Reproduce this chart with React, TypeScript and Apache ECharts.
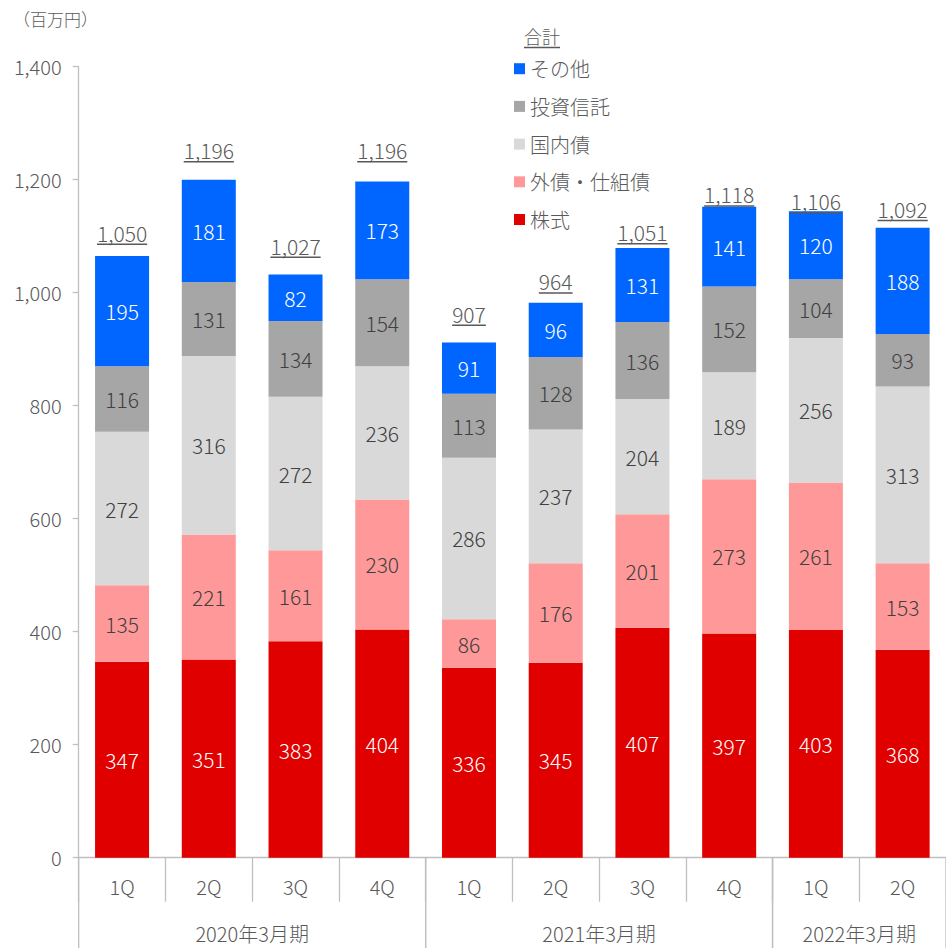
import React, { useEffect, useRef } from 'react';
import * as echarts from 'echarts';

const CATEGORIES = ['1Q', '2Q', '3Q', '4Q', '1Q', '2Q', '3Q', '4Q', '1Q', '2Q'];
const YEAR_GROUPS = ['2020年3月期', '2021年3月期', '2022年3月期'];
const GROUP_SIZES = [4, 4, 2];
const STOCKS = [347, 351, 383, 404, 336, 345, 407, 397, 403, 368];
const FOREIGN = [135, 221, 161, 230, 86, 176, 201, 273, 261, 153];
const DOMESTIC = [272, 316, 272, 236, 286, 237, 204, 189, 256, 313];
const FUNDS = [116, 131, 134, 154, 113, 128, 136, 152, 104, 93];
const OTHER = [195, 181, 82, 173, 91, 96, 131, 141, 120, 188];
const TOTALS = [1050, 1196, 1027, 1196, 907, 964, 1051, 1118, 1106, 1092];
const SERIES_NAMES = ['株式', '外債・仕組債', '国内債', '投資信託', 'その他'];
const LEGEND_ORDER = ['その他', '投資信託', '国内債', '外債・仕組債', '株式'];

const FONT = '"Noto Sans CJK JP", "Noto Sans", sans-serif';
const FW = 300;
const TEXT = '#595959';
const AXIS = '#BFBFBF';

export default function App() {
  const ref = useRef<HTMLDivElement>(null);
  useEffect(() => {
    const chart = echarts.init(ref.current!, null, { renderer: 'svg' });
    const canvas = document.createElement('canvas');
    const ctx = canvas.getContext('2d')!;
    ctx.font = `${FW} 21px ${FONT}`;

    const mk = (name: string, data: number[], color: string, labelColor: string) => ({
      name,
      type: 'bar',
      stack: 'total',
      data,
      barWidth: 54,
      itemStyle: { color },
      label: { show: true, position: 'inside', color: labelColor, fontSize: 21, fontFamily: FONT, fontWeight: FW },
      emphasis: { disabled: true },
      silent: true,
    });

    const groupData: number[][] = [];
    let s = 0;
    GROUP_SIZES.forEach((n, k) => {
      groupData.push([s, s + n - 1, k]);
      s += n;
    });

    chart.setOption({
      animation: false,
      grid: { left: 78.7, top: 66.7, bottom: 90.3, width: 870 },
      legend: {
        data: LEGEND_ORDER,
        orient: 'vertical',
        left: 509,
        top: 52.7,
        icon: 'rect',
        itemWidth: 11,
        itemHeight: 11,
        itemGap: 15.7,
        selectedMode: false,
        textStyle: { color: TEXT, fontSize: 20, fontFamily: FONT, fontWeight: FW, lineHeight: 22 },
      },
      xAxis: {
        type: 'category',
        data: CATEGORIES,
        axisLine: { show: true, lineStyle: { color: AXIS, width: 1.3 } },
        axisTick: { show: true, length: 44, lineStyle: { color: AXIS, width: 1.3 } },
        axisLabel: { color: TEXT, fontSize: 20, fontFamily: FONT, fontWeight: FW, margin: 19 },
      },
      yAxis: {
        type: 'value',
        min: 0,
        max: 1400,
        interval: 200,
        axisLine: { show: true, lineStyle: { color: AXIS, width: 1.3 } },
        axisTick: { show: true, length: 6, lineStyle: { color: AXIS, width: 1.3 } },
        splitLine: { show: false },
        axisLabel: {
          color: TEXT,
          fontSize: 20,
          fontFamily: FONT,
          fontWeight: FW,
          margin: 17,
          formatter: (v: number) => v.toLocaleString('en-US'),
        },
      },
      graphic: [
        {
          type: 'text',
          left: 13,
          top: 10,
          style: { text: '（百万円）', fill: TEXT, fontSize: 17, fontFamily: FONT, fontWeight: FW },
        },
        {
          type: 'text',
          x: 524,
          y: 36,
          style: { text: '合計', fill: TEXT, fontSize: 18, fontFamily: FONT, fontWeight: FW, verticalAlign: 'middle' },
        },
        {
          type: 'line',
          shape: { x1: 524, y1: 47.5, x2: 560, y2: 47.5 },
          style: { stroke: TEXT, lineWidth: 1.3 },
        },
      ],
      series: [
        mk(SERIES_NAMES[0], STOCKS, '#E00000', '#FFFFFF'),
        mk(SERIES_NAMES[1], FOREIGN, '#FF9999', '#404040'),
        mk(SERIES_NAMES[2], DOMESTIC, '#D9D9D9', '#404040'),
        mk(SERIES_NAMES[3], FUNDS, '#A6A6A6', '#404040'),
        mk(SERIES_NAMES[4], OTHER, '#0066FF', '#FFFFFF'),
        {
          type: 'custom',
          data: TOTALS.map((t, i) => [i, t]),
          clip: false,
          silent: true,
          z: 10,
          renderItem: (_p: any, api: any) => {
            const i = api.value(0);
            const t = api.value(1);
            const p = api.coord([i, t]);
            const text = Number(t).toLocaleString('en-US');
            const w = ctx.measureText(text).width;
            const cy = p[1] - 31.6;
            return {
              type: 'group',
              children: [
                {
                  type: 'text',
                  x: p[0],
                  y: cy,
                  style: { text, fill: TEXT, fontSize: 21, fontFamily: FONT, fontWeight: FW, align: 'center', verticalAlign: 'middle' },
                },
                {
                  type: 'line',
                  shape: { x1: p[0] - w / 2, y1: cy + 11.5, x2: p[0] + w / 2, y2: cy + 11.5 },
                  style: { stroke: TEXT, lineWidth: 1.5 },
                },
              ],
            };
          },
        },
        {
          type: 'custom',
          data: groupData,
          clip: false,
          silent: true,
          renderItem: (_p: any, api: any) => {
            const st = api.value(0);
            const en = api.value(1);
            const k = api.value(2);
            const a = api.coord([st, 0]);
            const b = api.coord([en, 0]);
            const bw = api.size([1, 0])[0];
            const left = a[0] - bw / 2;
            const right = b[0] + bw / 2;
            return {
              type: 'group',
              children: [
                { type: 'line', shape: { x1: left, y1: a[1], x2: left, y2: a[1] + 100 }, style: { stroke: AXIS, lineWidth: 1.3 } },
                { type: 'line', shape: { x1: right, y1: a[1], x2: right, y2: a[1] + 100 }, style: { stroke: AXIS, lineWidth: 1.3 } },
                {
                  type: 'text',
                  x: (left + right) / 2,
                  y: a[1] + 76,
                  style: { text: YEAR_GROUPS[k], fill: TEXT, fontSize: 20, fontFamily: FONT, fontWeight: FW, align: 'center', verticalAlign: 'middle' },
                },
              ],
            };
          },
        },
      ],
    });
    return () => chart.dispose();
  }, []);
  return <div ref={ref} style={{ position: 'absolute', left: 0, top: 0, width: 946, height: 948 }} />;
}
